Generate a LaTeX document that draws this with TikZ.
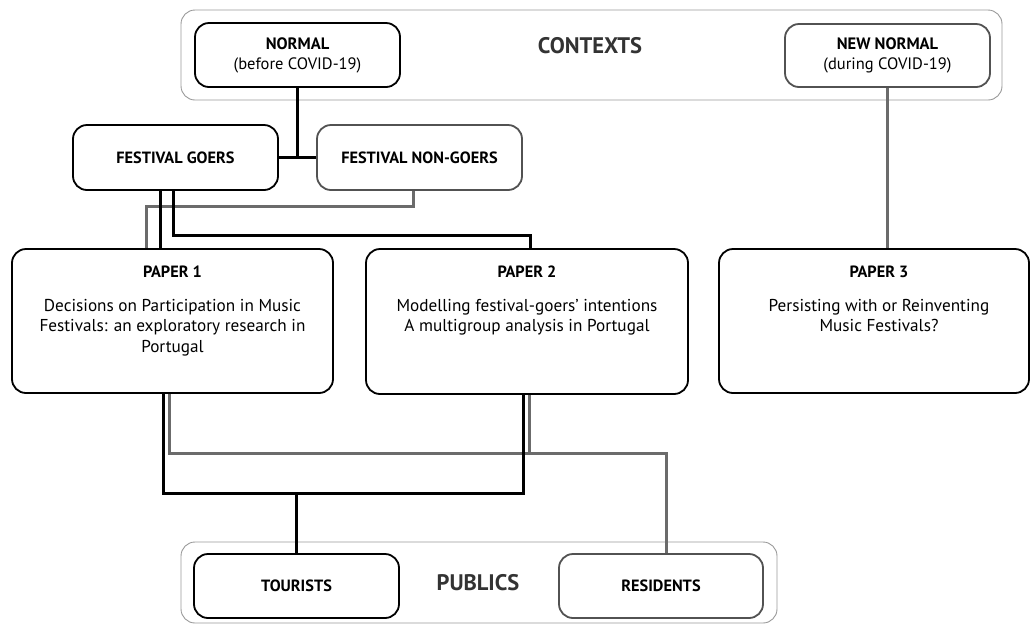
\documentclass[tikz,border=0pt]{standalone}
\usepackage{fontspec}
\setmainfont{PT Sans}
\begin{document}
\begin{tikzpicture}[x=1pt,y=-1pt,
  frame/.style={draw=black!40, line width=0.9pt, rounded corners=14pt},
  darkbox/.style={draw=black, line width=1.8pt, rounded corners=14pt, fill=white, align=center, inner sep=0pt},
  greybox/.style={draw=black!68, line width=1.8pt, rounded corners=14pt, fill=white, align=center, inner sep=0pt},
  bline/.style={draw=black, line width=3pt},
  gline/.style={draw=black!58, line width=3pt},
  boxfont/.style={font=\fontsize{16.5}{20}\selectfont},
  title/.style={font=\fontsize{16.3}{18}\selectfont\bfseries, inner sep=0pt},
  body/.style={font=\fontsize{17.2}{20.5}\selectfont, align=center, inner sep=0pt},
  heading/.style={font=\fontsize{22.5}{24}\selectfont\bfseries, text=black!80, inner sep=0pt}
]
\useasboundingbox (0,0) rectangle (1032,625);

% context and public frames
\node[frame, minimum width=821pt, minimum height=90pt] (ctxframe) at (591.5,55) {};
\node[frame, minimum width=596pt, minimum height=81pt] (pubframe) at (479,582.5) {};
\node[heading] (ctxlabel) at (590,46) {CONTEXTS};
\node[heading] (publabel) at (478,583) {PUBLICS};

% contexts
\node[darkbox, boxfont, minimum width=205pt, minimum height=64pt] (normal) at (297.5,55)
  {\textbf{NORMAL}\\(before COVID-19)};
\node[greybox, boxfont, minimum width=205pt, minimum height=63pt] (newnormal) at (887.5,55.5)
  {\textbf{NEW NORMAL}\\(during COVID-19)};

% audiences
\node[darkbox, title, minimum width=205pt, minimum height=65pt] (goers) at (175.5,157.5) {FESTIVAL GOERS};
\node[greybox, title, minimum width=205pt, minimum height=65pt] (nongoers) at (419.5,157.5) {FESTIVAL NON-GOERS};

% papers
\node[darkbox, minimum width=321pt, minimum height=144pt] (paper1) at (172.5,321) {};
\node[darkbox, minimum width=322pt, minimum height=145pt] (paper2) at (527,321.5) {};
\node[darkbox, minimum width=310pt, minimum height=144pt] (paper3) at (874,321) {};

\node[title] (p1title) at ([yshift=-24pt]paper1.north) {PAPER 1};
\node[body, anchor=north] (p1body) at ([yshift=-51pt]paper1.north)
  {Decisions on Participation in Music\\Festivals: an exploratory research in\\Portugal};
\node[title] (p2title) at ([yshift=-24pt]paper2.north) {PAPER 2};
\node[body, anchor=north] (p2body) at ([yshift=-51pt]paper2.north)
  {Modelling festival-goers’ intentions\\A multigroup analysis in Portugal};
\node[title] (p3title) at ([xshift=5pt,yshift=-24pt]paper3.north) {PAPER 3};
\node[body, anchor=north] (p3body) at ([xshift=5pt,yshift=-51pt]paper3.north)
  {Persisting with or Reinventing\\Music Festivals?};

% publics
\node[darkbox, title, minimum width=205pt, minimum height=64pt] (tourists) at (296.5,586) {TOURISTS};
\node[greybox, title, minimum width=204pt, minimum height=64pt] (residents) at (661,586) {RESIDENTS};

% connectors
\draw[bline] (normal.south) -- (normal.south |- goers.east);
\draw[bline] (goers.east) -- (nongoers.west);
\draw[gline] (newnormal.south) -- (newnormal.south |- paper3.north);

\draw[gline] ([xshift=-6pt]nongoers.south) -- ++(0,16) -| ([xshift=-26.5pt]paper1.north);
\draw[bline] ([xshift=-15.5pt]goers.south) -- ([xshift=-12.5pt]paper1.north);
\draw[bline] ([xshift=-2.5pt]goers.south) -- ++(0,45) -| ([xshift=3pt]paper2.north);

\draw[gline] ([xshift=-3pt]paper1.south) -- ++(0,60) -| ([xshift=5pt]residents.north);
\draw[gline] ([xshift=2pt]paper2.south) -- ++(0,60);
\draw[bline] ([xshift=-9.5pt]paper1.south) -- ++(0,100) -| ([xshift=-4pt]paper2.south);
\draw[bline] (tourists.north) -- ++(0,-61);
\end{tikzpicture}
\end{document}
